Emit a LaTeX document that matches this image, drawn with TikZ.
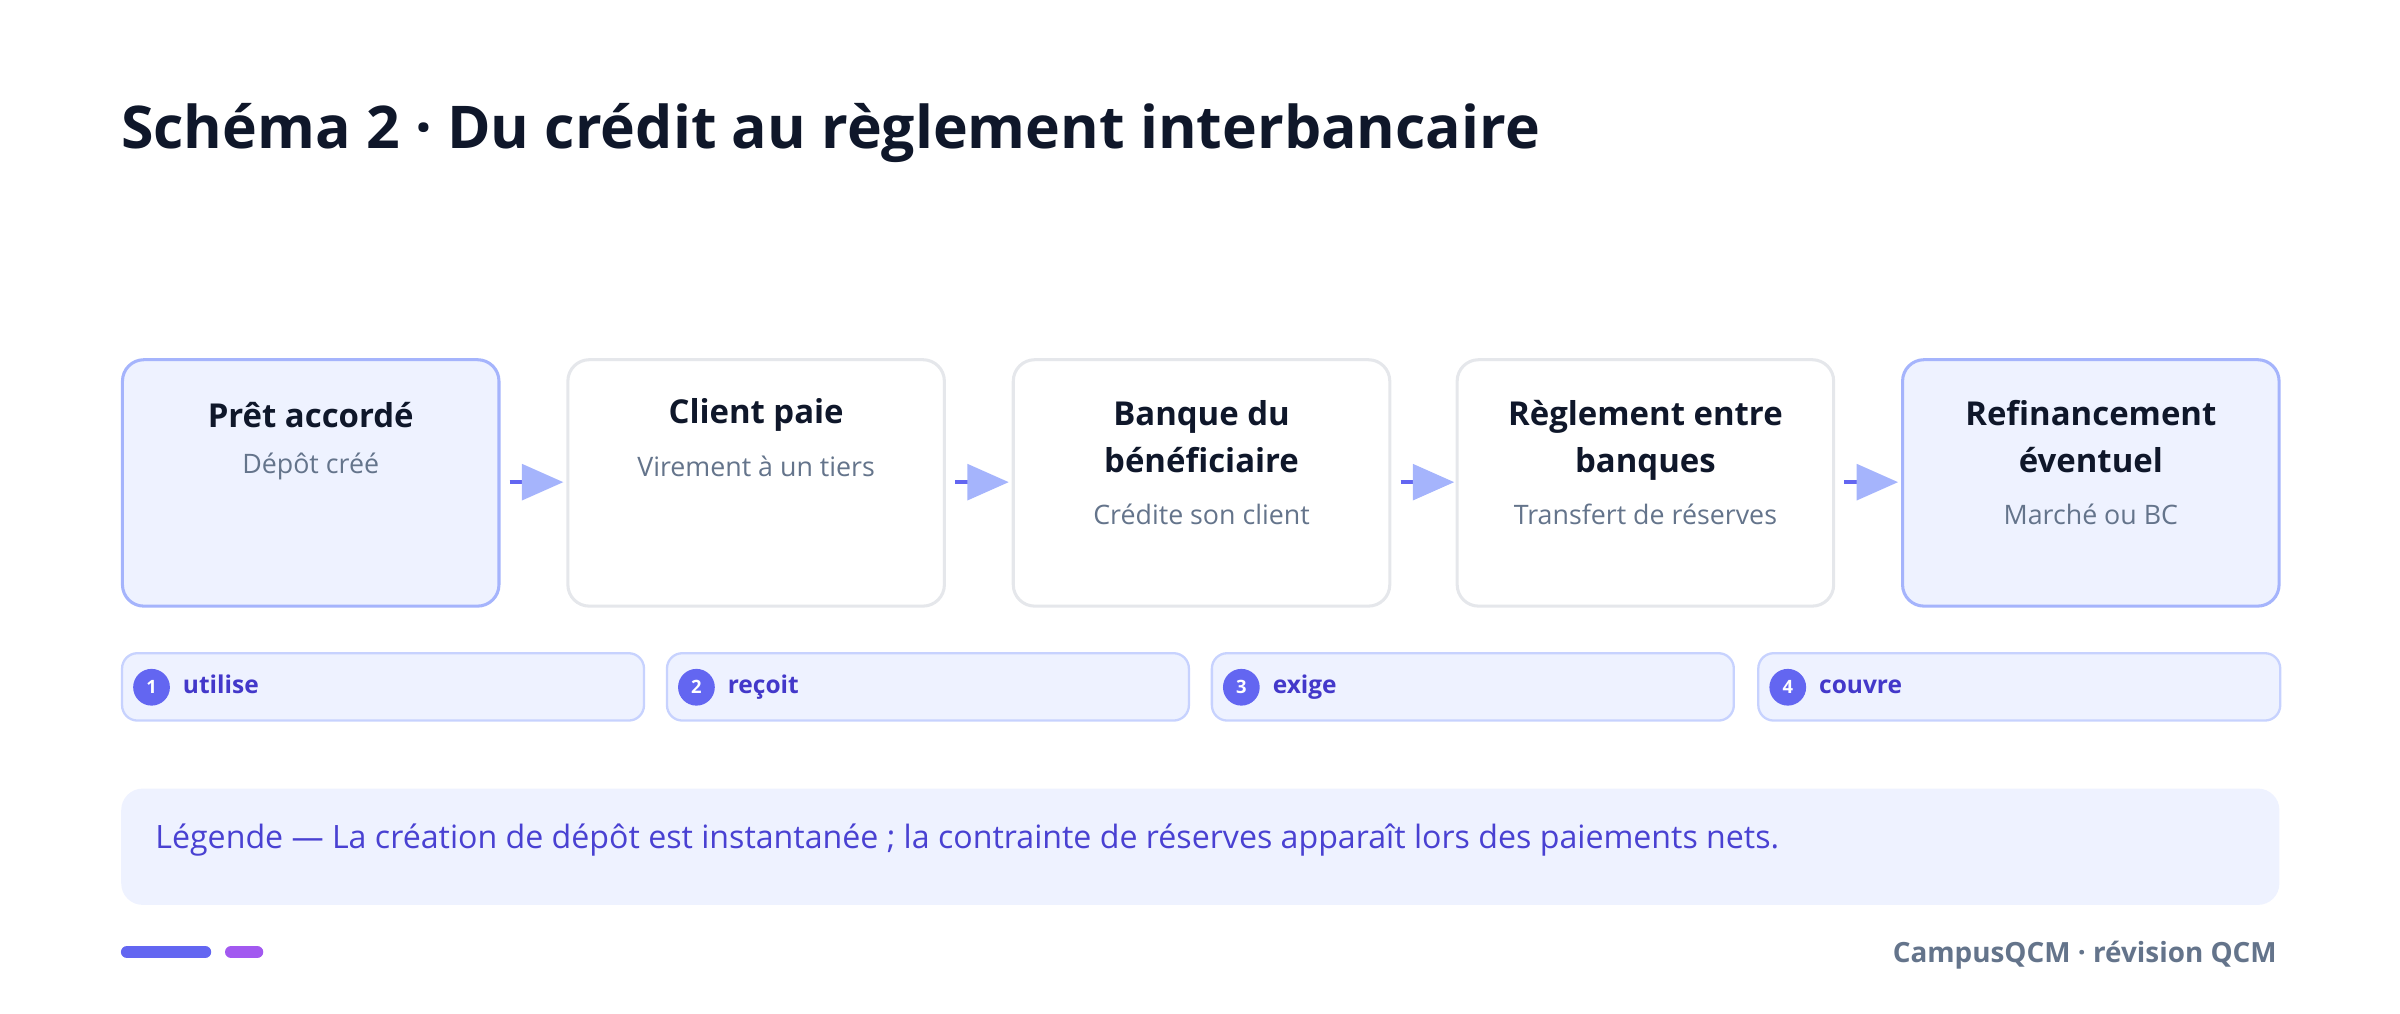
\documentclass[tikz,border=0pt]{standalone}
\usepackage{fontspec}
\setmainfont{Open Sans}
\definecolor{ink}{HTML}{0F172A}
\definecolor{sub}{HTML}{64748B}
\definecolor{pale}{HTML}{EEF2FF}
\definecolor{bord}{HTML}{A5B4FC}
\definecolor{grayb}{HTML}{E5E7EB}
\definecolor{pillb}{HTML}{C7D2FE}
\definecolor{indigo}{HTML}{6366F1}
\definecolor{itext}{HTML}{4338CA}
\definecolor{purp}{HTML}{A259F0}
\begin{document}
\begin{tikzpicture}[x=1pt,y=-1pt,
 stepbox/.style={draw=grayb,line width=2pt,fill=white,rounded corners=14pt,minimum width=246pt,minimum height=161pt,anchor=north west},
 hl/.style={stepbox,draw=bord,fill=pale},
 ttl/.style={font=\bfseries\fontsize{21.5}{31}\selectfont,text=ink,align=center},
 st/.style={font=\fontsize{17.5}{20}\selectfont,text=sub},
 pill/.style={draw=pillb,line width=1.5pt,fill=pale,rounded corners=10pt,minimum width=341pt,minimum height=44pt,anchor=north west},
 num/.style={circle,fill=indigo,text=white,inner sep=0pt,minimum size=24pt,font=\bfseries\fontsize{12}{12}\selectfont},
 pt/.style={font=\bfseries\fontsize{16}{16}\selectfont,text=itext,anchor=base west},
 arr/.style={line width=3pt,draw=indigo}]
\useasboundingbox (0,0) rectangle (1568,662);
\node[font=\bfseries\fontsize{38.5}{40}\selectfont,text=ink,anchor=base west,inner sep=0pt] (title) at (79,97) {Schéma 2 · Du crédit au règlement interbancaire};
\foreach \i/\x/\s in {1/79/hl,2/370/stepbox,3/661/stepbox,4/951/stepbox,5/1242/hl}
  \node[\s] (b\i) at (\x,234) {};
\node[ttl] (t1) at ([yshift=-37pt]b1.north) {Prêt accordé};
\node[st] (s1) at ([yshift=-71pt]b1.north) {Dépôt créé};
\node[ttl] (t2) at ([yshift=-37pt]b2.north) {Client paie};
\node[st] (s2) at ([yshift=-71pt]b2.north) {Virement à un tiers};
\node[ttl,anchor=north] (t3) at ([yshift=-24pt]b3.north) {Banque du\\bénéficiaire};
\node[st] (s3) at ([yshift=-102pt]b3.north) {Crédite son client};
\node[ttl,anchor=north] (t4) at ([yshift=-24pt]b4.north) {Règlement entre\\banques};
\node[st] (s4) at ([yshift=-102pt]b4.north) {Transfert de réserves};
\node[ttl,anchor=north] (t5) at ([yshift=-24pt]b5.north) {Refinancement\\éventuel};
\node[st] (s5) at ([yshift=-102pt]b5.north) {Marché ou BC};
\foreach \a/\b in {1/2,2/3,3/4,4/5}{
  \coordinate (p\a) at ([xshift=6pt,yshift=-81pt]b\a.north east);
  \draw[arr] (p\a) -- ++(9,0);
  \fill[bord] ([xshift=8pt]p\a) -- ++(0,-12) -- ++(27,12) -- ++(-27,12) -- cycle;
}
\foreach \i/\x/\t in {1/79/utilise,2/435/reçoit,3/791/exige,4/1148/couvre}{
  \node[pill] (q\i) at (\x,426) {};
  \node[num] (n\i) at (\x+20,449) {\i};
  \node[pt] (l\i) at (\x+37,453) {\t};
}
\node[fill=pale,rounded corners=14pt,minimum width=1410pt,minimum height=76pt,anchor=north west] (leg) at (79,515) {};
\node[anchor=west,font=\fontsize{21}{22}\selectfont,text=itext!80!indigo] (legt) at (98,549) {Légende — La création de dépôt est instantanée ; la contrainte de réserves apparaît lors des paiements nets.};
\draw[line width=8pt,line cap=round,indigo] (83,622) -- (134,622);
\draw[line width=8pt,line cap=round,purp] (151,622) -- (168,622);
\node[anchor=east,font=\bfseries\fontsize{18.2}{18}\selectfont,text=sub] (foot) at (1491,624) {CampusQCM · révision QCM};
\end{tikzpicture}
\end{document}
